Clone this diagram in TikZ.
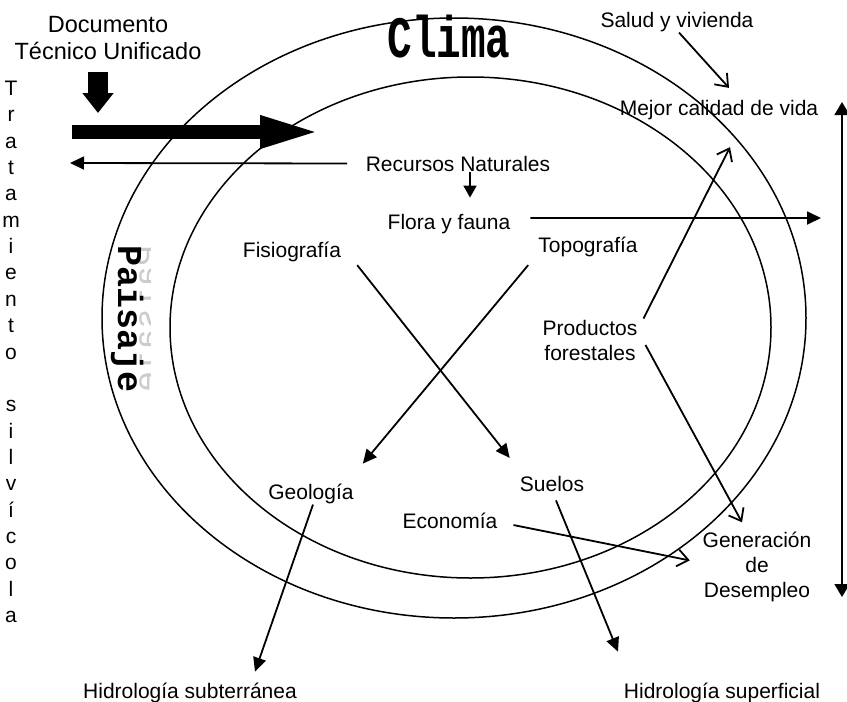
\documentclass[tikz,border=0pt]{standalone}
\usepackage{fontspec}
\setmainfont{Liberation Sans}
\newfontfamily\wordart{Liberation Mono}
\usetikzlibrary{arrows.meta,calc}

\begin{document}
\begin{tikzpicture}[x=1pt,y=-1pt,
  lbl/.style={font=\fontsize{21}{25}\selectfont, inner sep=1pt},
  flecha/.style={line width=1.8pt, -{Triangle[length=14pt,width=13pt]}},
  abierta/.style={line width=1.8pt, -{Straight Barb[length=11pt,width=17pt]}},
  anillo/.style={line width=1.5pt}]

\useasboundingbox (0,0) rectangle (847,702);

% anillos
\draw[anillo] (454,318) ellipse [x radius=352, y radius=300];
\draw[anillo] (470.5,327.5) ellipse [x radius=300.5, y radius=250.5];

% titulos
\node[font=\wordart\bfseries\fontsize{41}{41}\selectfont, yscale=1.43, anchor=base, inner sep=0] (clima) at (449,57) {Clima};

\begin{scope}
\clip (138,230) rectangle (150,410);
\node[font=\wordart\fontsize{35}{35}\selectfont, text=gray!40, cm={0,-1,-1,0,(0,0)}, anchor=base, inner sep=0] (reflejo) at (158,319) {Paisaje};
\end{scope}
\node[font=\wordart\bfseries\fontsize{35}{35}\selectfont, rotate=-90, anchor=base, inner sep=0] (paisaje) at (118,319) {Paisaje};

% las de varias lineas llevan la base en la ultima linea
\node[lbl, font=\fontsize{23.5}{27}\selectfont, anchor=base, align=center] (doc) at (108,59) {Documento\\Técnico Unificado};
\node[lbl, font=\fontsize{21}{26.35}\selectfont, anchor=base, align=center] (trat) at (11,622.5) {T\\r\\a\\t\\a\\m\\i\\e\\n\\t\\o\\[26.35pt]s\\i\\l\\v\\í\\c\\o\\l\\a};

% etiquetas
\node[lbl, anchor=base] (recursos) at (458,171) {Recursos Naturales};
\node[lbl, anchor=base] (flora) at (449,229) {Flora y fauna};
\node[lbl, anchor=base] (fisio) at (292,257) {Fisiografía};
\node[lbl, anchor=base] (topo) at (588,252) {Topografía};
\node[lbl, anchor=base] (salud) at (677,27) {Salud y vivienda};
\node[lbl, anchor=base] (mejor) at (719,115) {Mejor calidad de vida};
\node[lbl, anchor=base, align=center] (productos) at (590,360) {Productos\\forestales};
\node[lbl, anchor=base] (geologia) at (311,499) {Geología};
\node[lbl, anchor=base] (suelos) at (552,491) {Suelos};
\node[lbl, anchor=base] (economia) at (450,528) {Economía};
\node[lbl, anchor=base, align=center] (generacion) at (757,597) {Generación\\de\\Desempleo};
\node[lbl, anchor=base] (hidsub) at (190,698) {Hidrología subterránea};
\node[lbl, anchor=base] (hidsup) at (722,698) {Hidrología superficial};

\coordinate (bajaA) at (98,72);
\coordinate (bajaB) at (98,113);
\coordinate (gruesaA) at (72,132);
\coordinate (gruesaB) at (322,132);
\coordinate (izq) at (70,163);
\coordinate (der) at (821,218);
\coordinate (ejeArr) at (842,102);
\coordinate (ejeAba) at (842,597);

% flechas gruesas
\draw[line width=20pt, -{Triangle[length=20pt,width=30pt]}] (bajaA) -- (bajaB);
\draw[line width=14pt, -{Triangle[length=62pt,width=29pt]}] (gruesaA) -- (gruesaB);

% flechas
\draw[flecha] ([xshift=-17.5pt]recursos.west) -- (izq);
\draw[flecha, -{Triangle[length=12pt,width=13pt]}] ([xshift=12pt]recursos.south) -- ([shift={(21pt,15pt)}]flora.north);
\draw[flecha] ([shift={(19pt,5.5pt)}]flora.east) -- (der);
\draw[abierta] ([xshift=2pt]salud.south) -- ([shift={(10pt,10.7pt)}]mejor.north);
\draw[abierta] ([xshift=5pt]productos.north east) -- ([shift={(11pt,-26.6pt)}]mejor.south);
\draw[flecha, {Triangle[length=13pt,width=15pt]}-{Triangle[length=13pt,width=15pt]}] (ejeArr) -- (ejeAba);
\draw[flecha] ([shift={(15pt,-2.6pt)}]fisio.south east) -- ([shift={(-9pt,16.7pt)}]suelos.north west);
\draw[flecha] ([shift={(-9pt,-7.6pt)}]topo.south west) -- ([shift={(8pt,18.7pt)}]geologia.north east);
\draw[flecha] ([xshift=2pt]geologia.south) -- ([shift={(65pt,9.7pt)}]hidsub.north);
\draw[flecha] ([shift={(4pt,-8pt)}]suelos.south) -- ([shift={(-104pt,29.7pt)}]hidsup.north);
\draw[abierta] ([shift={(7pt,-5pt)}]productos.east) -- ([shift={(-15pt,8pt)}]generacion.north);
\draw[abierta] ([shift={(15pt,-4.65pt)}]economia.east) -- ([shift={(-11.7pt,6pt)}]generacion.west);

\end{tikzpicture}
\end{document}
